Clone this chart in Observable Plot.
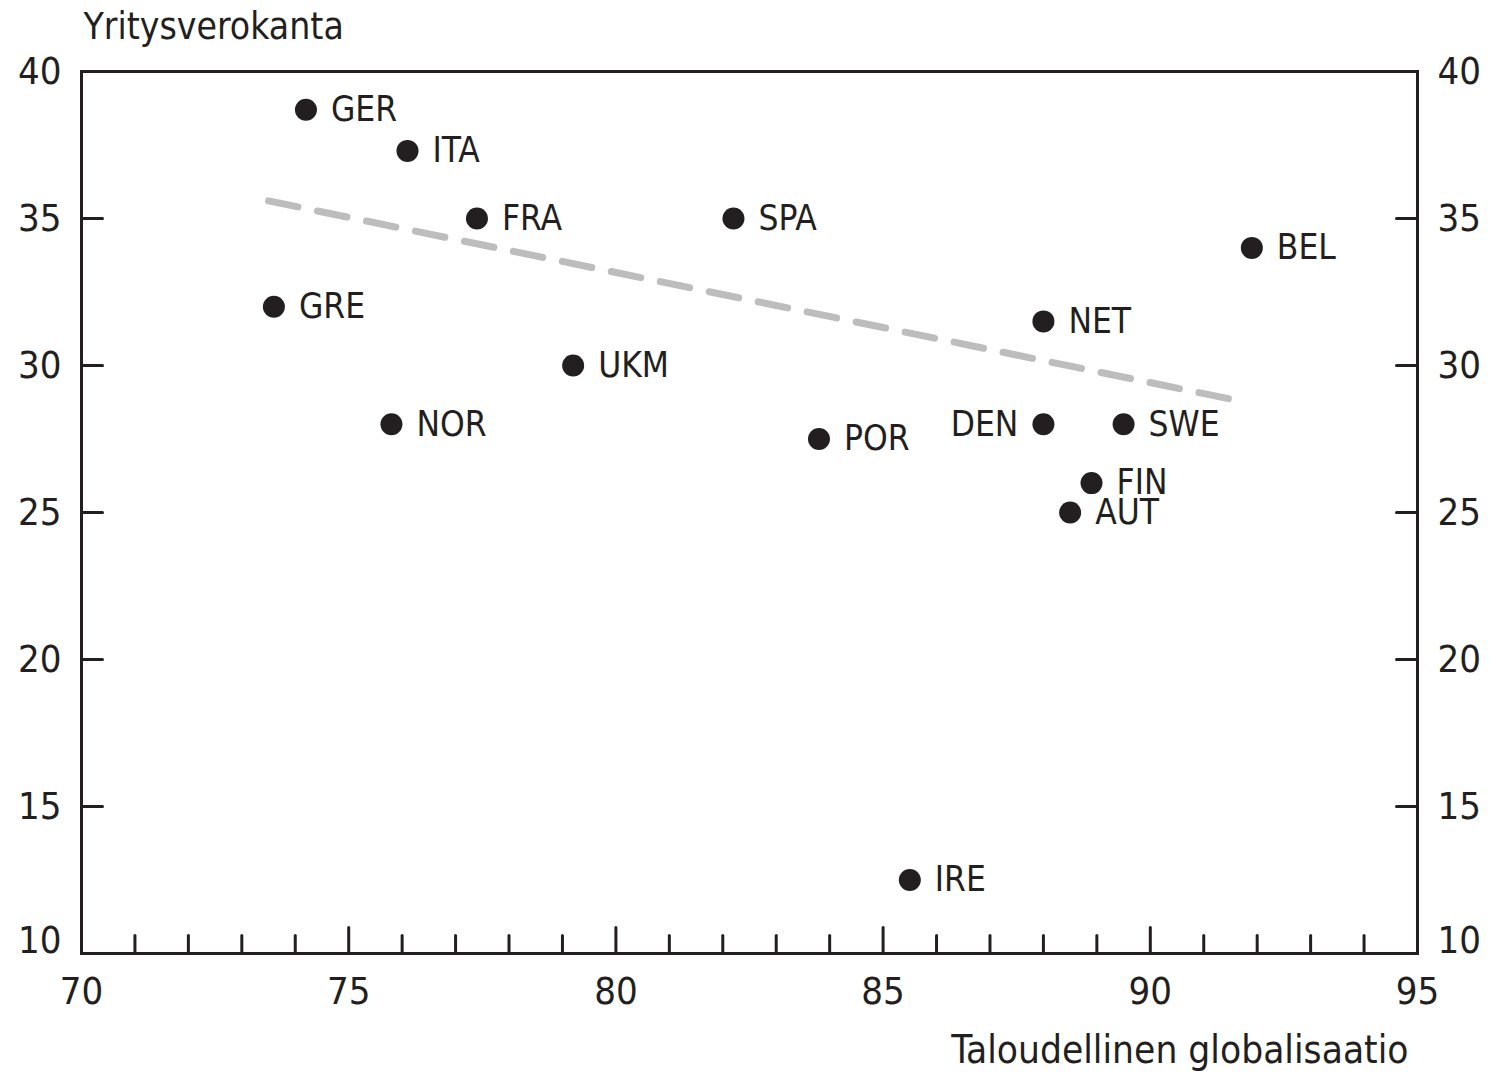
<!DOCTYPE html>
<html>
<head>
<meta charset="utf-8">
<script src="https://cdn.jsdelivr.net/npm/d3@7"></script>
<script src="https://cdn.jsdelivr.net/npm/@observablehq/plot@0.6"></script>
<style>
  html, body { margin: 0; padding: 0; background: #fff; }
  #chart svg { display: block; }
</style>
</head>
<body>
<div id="chart"></div>
<script>
// Data
const countries = ["GER", "ITA", "FRA", "SPA", "BEL", "GRE", "NET", "UKM", "NOR", "POR", "DEN", "SWE", "FIN", "AUT", "IRE"];
const globalisation = [74.2, 76.1, 77.4, 82.2, 91.9, 73.6, 88.0, 79.2, 75.8, 83.8, 88.0, 89.5, 88.9, 88.5, 85.5];
const corporateTax = [38.7, 37.3, 35.0, 35.0, 34.0, 32.0, 31.5, 30.0, 28.0, 27.5, 28.0, 28.0, 26.0, 25.0, 12.5];
const labelSide = ["right", "right", "right", "right", "right", "right", "right", "right", "right", "right", "left", "right", "right", "right", "right"];

const trendX = [73.5, 91.65];
const trendY = [35.6, 28.8];

const xMajorTicks = [70, 75, 80, 85, 90, 95];
const xMinorTicks = [71, 72, 73, 74, 76, 77, 78, 79, 81, 82, 83, 84, 86, 87, 88, 89, 91, 92, 93, 94];
const yTicks = [15, 20, 25, 30, 35, 40];
const yBottomTick = [10];

const yTitle = "Yritysverokanta";
const xTitle = "Taloudellinen globalisaatio";

const points = countries.map((c, i) => ({name: c, x: globalisation[i], y: corporateTax[i], side: labelSide[i]}));
const trend = trendX.map((x, i) => ({x, y: trendY[i]}));

const font = "'Liberation Sans Narrow', 'DejaVu Sans Condensed', sans-serif";
const ink = "#231f20";
const tickShape = { draw(context, l) { context.moveTo(0, 0); context.lineTo(0, -l); } };
const tickShapeX = { draw(context, l) { context.moveTo(0, 0); context.lineTo(l, 0); } };

const chart = Plot.plot({
  width: 1493,
  height: 1075,
  marginLeft: 81,
  marginRight: 76,
  marginTop: 71,
  marginBottom: 122,
  style: { fontFamily: font, background: "#fff", color: ink },
  x: { domain: [70, 95], axis: null },
  y: { domain: [10, 40], axis: null },
  marks: [
    // trend line
    Plot.line(trend, { x: "x", y: "y", stroke: "#bdbdbd", strokeWidth: 7, strokeDasharray: "30,20" }),
    // bottom x ticks (inward)
    Plot.vector(xMinorTicks, { x: d => d, y: 10, length: 18, anchor: "start", rotate: 0, shape: tickShape, stroke: ink, strokeWidth: 3 }),
    Plot.vector(xMajorTicks, { x: d => d, y: 10, length: 26, anchor: "start", rotate: 0, shape: tickShape, stroke: ink, strokeWidth: 3 }),
    // y ticks inward on both sides
    Plot.vector(yTicks, { x: 70, y: d => d, length: 21, anchor: "start", rotate: 0, shape: tickShapeX, stroke: ink, strokeWidth: 3 }),
    Plot.vector(yTicks, { x: 95, y: d => d, length: -21, anchor: "start", rotate: 0, shape: tickShapeX, stroke: ink, strokeWidth: 3 }),
    Plot.frame({ stroke: ink, strokeWidth: 3 }),
    // tick labels
    Plot.text(xMajorTicks, { x: d => d, y: 10, dy: 38, text: d => String(d), fontSize: 38, fill: ink, lineAnchor: "middle" }),
    Plot.text(yTicks, { x: 70, y: d => d, dx: -20, text: d => String(d), textAnchor: "end", fontSize: 38, fill: ink }),
    Plot.text(yTicks, { x: 95, y: d => d, dx: 20, text: d => String(d), textAnchor: "start", fontSize: 38, fill: ink }),
    Plot.text(yBottomTick, { x: 70, y: d => d, dx: -20, dy: -13, text: d => String(d), textAnchor: "end", fontSize: 38, fill: ink }),
    Plot.text(yBottomTick, { x: 95, y: d => d, dx: 20, dy: -13, text: d => String(d), textAnchor: "start", fontSize: 38, fill: ink }),
    // points
    Plot.dot(points, { x: "x", y: "y", r: 11, fill: ink, stroke: "none" }),
    Plot.text(points.filter(d => d.side === "right"), { x: "x", y: "y", text: "name", dx: 25, textAnchor: "start", fontSize: 35, fill: ink }),
    Plot.text(points.filter(d => d.side === "left"), { x: "x", y: "y", text: "name", dx: -25, textAnchor: "end", fontSize: 35, fill: ink }),
    // axis titles
    Plot.text([yTitle], { frameAnchor: "top-left", dx: 2, dy: -44, text: d => d, textAnchor: "start", lineAnchor: "middle", fontSize: 37, fill: ink }),
    Plot.text([xTitle], { frameAnchor: "bottom-right", dx: -9, dy: 97, text: d => d, textAnchor: "end", lineAnchor: "middle", fontSize: 38.5, fill: ink })
  ]
});
document.getElementById("chart").appendChild(chart);
</script>
</body>
</html>
